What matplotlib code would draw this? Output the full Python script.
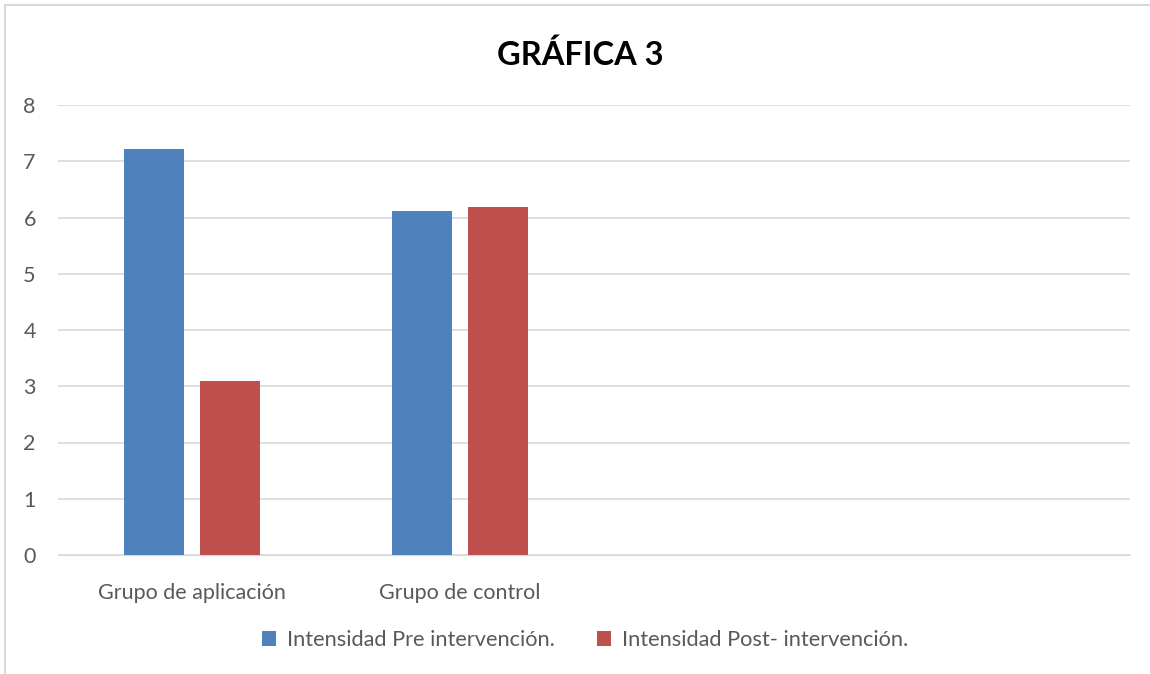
import numpy as np
import matplotlib
matplotlib.use('Agg')
import matplotlib.pyplot as plt
from matplotlib.patches import Rectangle

plt.rcParams['font.family'] = ['Lato', 'DejaVu Sans']

categorias = ['Grupo de aplicación', 'Grupo de control', '', '']
pre = [7.22, 6.12, np.nan, np.nan]
post = [3.09, 6.19, np.nan, np.nan]
series = ['Intensidad Pre intervención.', 'Intensidad Post- intervención.']

fig = plt.figure(figsize=(11.5, 6.74), dpi=100)
ax = fig.add_axes([58/1150, 1-555/674, (1130-58)/1150, 450/674])

x = np.arange(len(categorias))
w = 0.224
gap = 0.06
b1 = ax.bar(x - (w+gap)/2, pre, w, color='#4f81bd', label=series[0], zorder=3)
b2 = ax.bar(x + (w+gap)/2, post, w, color='#c0504d', label=series[1], zorder=3)

ax.set_xlim(-0.5, len(categorias)-0.5)
ax.set_ylim(0, 8)
ax.set_yticks(range(0, 9))
ax.set_xticks(x)
ax.set_xticklabels(categorias)
ax.grid(axis='y', color='#d9d9d9', linewidth=1.2, zorder=0)
for s in ax.spines.values():
    s.set_visible(False)
ax.spines['bottom'].set_visible(True)
ax.spines['bottom'].set_color('#d9d9d9')
ax.tick_params(axis='both', length=0, labelsize=15.5, colors='#595959')
ax.tick_params(axis='x', pad=20)
ax.tick_params(axis='y', pad=16)

fig.text(580/1150, 1-55/674, 'GRÁFICA 3', ha='center', va='center',
         fontsize=23.5, fontweight='bold', color='black')

fig.legend(handles=[b1, b2], loc='center', bbox_to_anchor=(585/1150, 1-640/674),
           ncol=2, frameon=False, fontsize=15.7, labelcolor='#595959',
           handlelength=0.65, handleheight=0.65, columnspacing=1.9, handletextpad=0.5)

fig.patches.append(Rectangle((5/1150, -0.1), 1.2, 1-5/674+0.1, transform=fig.transFigure,
                             fill=False, edgecolor='#d9d9d9', linewidth=1.5))

fig.savefig('out.png', dpi=100)
